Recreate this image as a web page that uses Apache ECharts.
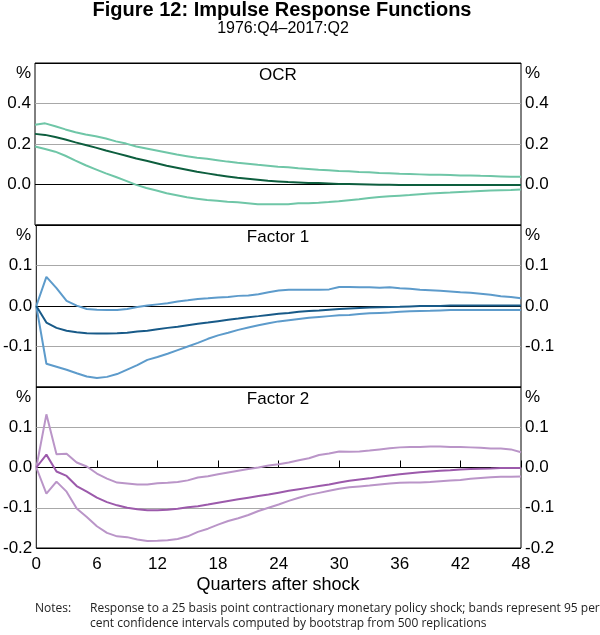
<!DOCTYPE html>
<html>
<head>
<meta charset="utf-8">
<script src="https://cdn.jsdelivr.net/npm/echarts@6/dist/echarts.min.js"></script>
<style>
html,body{margin:0;padding:0;background:#fff;}
#chart{width:600px;height:635px;}
</style>
</head>
<body>
<div id="chart"></div>
<script>
// Quarters after shock
var quarters = [0,1,2,3,4,5,6,7,8,9,10,11,12,13,14,15,16,17,18,19,20,21,22,23,24,25,26,27,28,29,30,31,32,33,34,35,36,37,38,39,40,41,42,43,44,45,46,47,48];
var xTicks = [0, 6, 12, 18, 24, 30, 36, 42, 48];

// OCR
var ocrMid = [0.250,0.245,0.235,0.222,0.208,0.195,0.182,0.168,0.155,0.142,
  0.128,0.117,0.105,0.093,0.083,0.073,0.063,0.055,0.047,0.040,
  0.033,0.028,0.023,0.018,0.015,0.012,0.010,0.008,0.007,0.005,
  0.003,0.002,0.001,0.000,-0.001,-0.001,-0.002,-0.002,-0.002,-0.002,
  -0.002,-0.002,-0.002,-0.002,-0.002,-0.002,-0.002,-0.002,-0.002];
var ocrUp = [0.295,0.302,0.288,0.272,0.258,0.247,0.238,0.227,0.213,0.202,
  0.188,0.178,0.168,0.158,0.148,0.140,0.132,0.127,0.120,0.113,
  0.107,0.102,0.097,0.093,0.088,0.085,0.080,0.077,0.073,0.070,
  0.067,0.065,0.062,0.060,0.057,0.055,0.053,0.052,0.050,0.048,
  0.048,0.047,0.045,0.045,0.043,0.042,0.040,0.038,0.038];
var ocrLo = [0.188,0.175,0.162,0.142,0.118,0.095,0.075,0.055,0.037,0.018,
  -0.002,-0.017,-0.030,-0.043,-0.053,-0.063,-0.070,-0.077,-0.080,-0.085,
  -0.088,-0.092,-0.097,-0.098,-0.098,-0.097,-0.093,-0.092,-0.090,-0.087,
  -0.083,-0.078,-0.073,-0.067,-0.062,-0.058,-0.055,-0.052,-0.048,-0.045,
  -0.042,-0.040,-0.037,-0.035,-0.032,-0.030,-0.028,-0.027,-0.025];

// Factor 1
var f1Mid = [0,-0.041,-0.054,-0.061,-0.065,-0.0675,-0.068,-0.068,-0.0675,-0.066,
  -0.063,-0.061,-0.0575,-0.054,-0.051,-0.0475,-0.044,-0.041,-0.0375,-0.034,
  -0.031,-0.0275,-0.025,-0.022,-0.019,-0.017,-0.014,-0.0125,-0.011,-0.009,
  -0.0075,-0.006,-0.005,-0.004,-0.003,-0.0025,-0.002,-0.001,0,0,
  0,0.001,0.001,0.001,0.001,0.001,0.001,0.001,0.001];
var f1Up = [0,0.072,0.044,0.0125,0.001,-0.0075,-0.009,-0.010,-0.010,-0.0075,
  -0.0025,0.001,0.004,0.007,0.011,0.014,0.0175,0.019,0.021,0.0225,
  0.025,0.026,0.029,0.034,0.038,0.040,0.040,0.040,0.040,0.041,
  0.047,0.047,0.046,0.046,0.045,0.046,0.044,0.0425,0.040,0.039,
  0.0375,0.036,0.034,0.0325,0.030,0.0275,0.024,0.022,0.019];
var f1Lo = [0,-0.1425,-0.150,-0.1575,-0.166,-0.174,-0.178,-0.175,-0.168,-0.157,
  -0.146,-0.133,-0.126,-0.118,-0.109,-0.100,-0.091,-0.081,-0.0725,-0.066,
  -0.059,-0.053,-0.0475,-0.0425,-0.038,-0.035,-0.032,-0.029,-0.027,-0.025,
  -0.023,-0.022,-0.020,-0.018,-0.017,-0.016,-0.014,-0.013,-0.0125,-0.012,
  -0.011,-0.010,-0.010,-0.010,-0.010,-0.010,-0.010,-0.010,-0.010];

// Factor 2
var f2Mid = [0,0.032,-0.010,-0.021,-0.046,-0.060,-0.075,-0.086,-0.094,-0.100,
  -0.104,-0.106,-0.106,-0.105,-0.1025,-0.099,-0.096,-0.092,-0.0875,-0.083,
  -0.079,-0.075,-0.071,-0.067,-0.0625,-0.058,-0.054,-0.050,-0.046,-0.042,
  -0.0375,-0.033,-0.030,-0.027,-0.023,-0.020,-0.017,-0.014,-0.012,-0.010,
  -0.008,-0.007,-0.005,-0.004,-0.003,-0.0025,-0.0015,-0.001,-0.001];
var f2Up = [0,0.132,0.033,0.034,0.0125,0.0025,-0.015,-0.0275,-0.0375,-0.040,
  -0.0425,-0.0425,-0.039,-0.038,-0.036,-0.032,-0.025,-0.022,-0.017,-0.0125,
  -0.008,-0.004,0,0.005,0.008,0.0125,0.018,0.023,0.031,0.035,
  0.040,0.039,0.040,0.042,0.045,0.048,0.050,0.051,0.051,0.052,
  0.052,0.051,0.051,0.050,0.049,0.0475,0.047,0.045,0.038];
var f2Lo = [0,-0.065,-0.035,-0.060,-0.102,-0.123,-0.146,-0.1625,-0.171,-0.173,
  -0.179,-0.1825,-0.182,-0.181,-0.1775,-0.171,-0.160,-0.152,-0.142,-0.133,
  -0.126,-0.118,-0.108,-0.100,-0.092,-0.083,-0.075,-0.068,-0.063,-0.058,
  -0.053,-0.049,-0.047,-0.045,-0.0425,-0.040,-0.038,-0.0375,-0.037,-0.036,
  -0.034,-0.0325,-0.031,-0.028,-0.026,-0.024,-0.023,-0.023,-0.0225];

// Panel axis ticks and labels
var panelTitles = ['OCR', 'Factor 1', 'Factor 2'];
var panelMin = [-0.2, -0.2, -0.2];
var panelMax = [0.6, 0.2, 0.2];
var panelStep = [0.2, 0.1, 0.1];
var panelLabels = [['0.0','0.2','0.4'], ['-0.1','0.0','0.1'], ['-0.2','-0.1','0.0','0.1']];
var titleText = 'Figure 12: Impulse Response Functions';
var subTitleText = '1976:Q4\u20132017:Q2';
var xName = 'Quarters after shock';
var notesLabel = 'Notes:';
var notesLines = ['Response to a 25 basis point contractionary monetary policy shock; bands represent 95 per',
  'cent confidence intervals computed by bootstrap from 500 replications'];

var panels = [
  {mid: ocrMid, up: ocrUp, lo: ocrLo, cMid: '#0d5e3e', cBand: '#6fc6a7'},
  {mid: f1Mid, up: f1Up, lo: f1Lo, cMid: '#185a88', cBand: '#5d9bcb'},
  {mid: f2Mid, up: f2Up, lo: f2Lo, cMid: '#9c5aab', cBand: '#ba95c8'}
];

var FONT = '"Liberation Sans", Arial, sans-serif';
var NFONT = '12px "Open Sans", sans-serif';
var gridTops = [63, 225, 387];
var gridH = [162, 162, 161];
var GL = 35, GW = 486;

function pairs(arr) { return arr.map(function (v, i) { return [quarters[i], v]; }); }

var grids = [], xAxes = [], yAxes = [], series = [], graphics = [];
for (var p = 0; p < 3; p++) {
  grids.push({left: GL, top: gridTops[p], width: GW, height: gridH[p], show: true,
    borderColor: '#000', borderWidth: 1, backgroundColor: 'transparent'});
  var last = p === 2;
  xAxes.push({type: 'value', gridIndex: p, min: 0, max: 48, interval: 6,
    axisLine: {show: false},
    axisTick: {show: last, inside: true, length: 7, lineStyle: {color: '#000', width: 1}},
    axisLabel: {show: last, fontSize: 17, color: '#000', fontFamily: FONT, margin: 8,
      formatter: function (v) { return xTicks.indexOf(v) >= 0 ? String(v) : ''; }},
    splitLine: {show: false}});
  var lbls = panelLabels[p];
  var fmt = (function (l) { return function (v) { var s = (Math.abs(v) < 1e-9 ? 0 : v).toFixed(1); return l.indexOf(s) >= 0 ? s : ''; }; })(lbls);
  var splitColors = p === 0 ? ['#000', '#000', '#a8a8a8', '#a8a8a8', '#000'] : ['#000', '#a8a8a8', '#000', '#a8a8a8', '#000'];
  yAxes.push({type: 'value', gridIndex: p, position: 'left', min: panelMin[p], max: panelMax[p], interval: panelStep[p],
    axisLine: {show: false}, axisTick: {show: false},
    axisLabel: {fontSize: 17, color: '#000', fontFamily: FONT, margin: 4, formatter: fmt},
    splitLine: {show: true, lineStyle: {color: splitColors, width: 1}}});
  yAxes.push({type: 'value', gridIndex: p, position: 'right', min: panelMin[p], max: panelMax[p], interval: panelStep[p],
    axisLine: {show: false}, axisTick: {show: false},
    axisLabel: {fontSize: 17, color: '#000', fontFamily: FONT, margin: 4, formatter: fmt},
    splitLine: {show: false}});
  var pd = panels[p];
  [['up', pd.cBand], ['lo', pd.cBand], ['mid', pd.cMid]].forEach(function (s) {
    series.push({type: 'line', xAxisIndex: p, yAxisIndex: 2 * p, data: pairs(pd[s[0]]),
      symbol: 'none', silent: true, animation: false, z: s[0] === 'mid' ? 3 : 2,
      lineStyle: {color: s[1], width: 2}});
  });
  graphics.push({type: 'text', x: 278, y: gridTops[p] + 12, style: {text: panelTitles[p], font: '17px ' + FONT, fill: '#000', align: 'center', verticalAlign: 'middle'}});
  graphics.push({type: 'text', x: 31, y: gridTops[p] + 10, style: {text: '%', font: '17px ' + FONT, fill: '#000', align: 'right', verticalAlign: 'middle'}});
  graphics.push({type: 'text', x: 525, y: gridTops[p] + 10, style: {text: '%', font: '17px ' + FONT, fill: '#000', align: 'left', verticalAlign: 'middle'}});
}

graphics.push({type: 'text', x: 282, y: 10, style: {text: titleText, font: 'bold 20px ' + FONT, fill: '#000', align: 'center', verticalAlign: 'middle'}});
graphics.push({type: 'text', x: 283, y: 29, style: {text: subTitleText, font: '16px ' + FONT, fill: '#000', align: 'center', verticalAlign: 'middle'}});
graphics.push({type: 'text', x: 278, y: 585, style: {text: xName, font: '18px ' + FONT, fill: '#000', align: 'center', verticalAlign: 'middle'}});
graphics.push({type: 'text', x: 35, y: 609, style: {text: notesLabel, font: NFONT, fill: '#222', align: 'left', verticalAlign: 'middle'}});
graphics.push({type: 'text', x: 90, y: 609, style: {text: notesLines[0], font: NFONT, fill: '#222', align: 'left', verticalAlign: 'middle'}});
graphics.push({type: 'text', x: 90, y: 624, style: {text: notesLines[1], font: NFONT, fill: '#222', align: 'left', verticalAlign: 'middle'}});

var chart = echarts.init(document.getElementById('chart'), null, {renderer: 'canvas'});
chart.setOption({
  animation: false,
  backgroundColor: '#fff',
  grid: grids, xAxis: xAxes, yAxis: yAxes, series: series, graphic: graphics
});
</script>
</body>
</html>
